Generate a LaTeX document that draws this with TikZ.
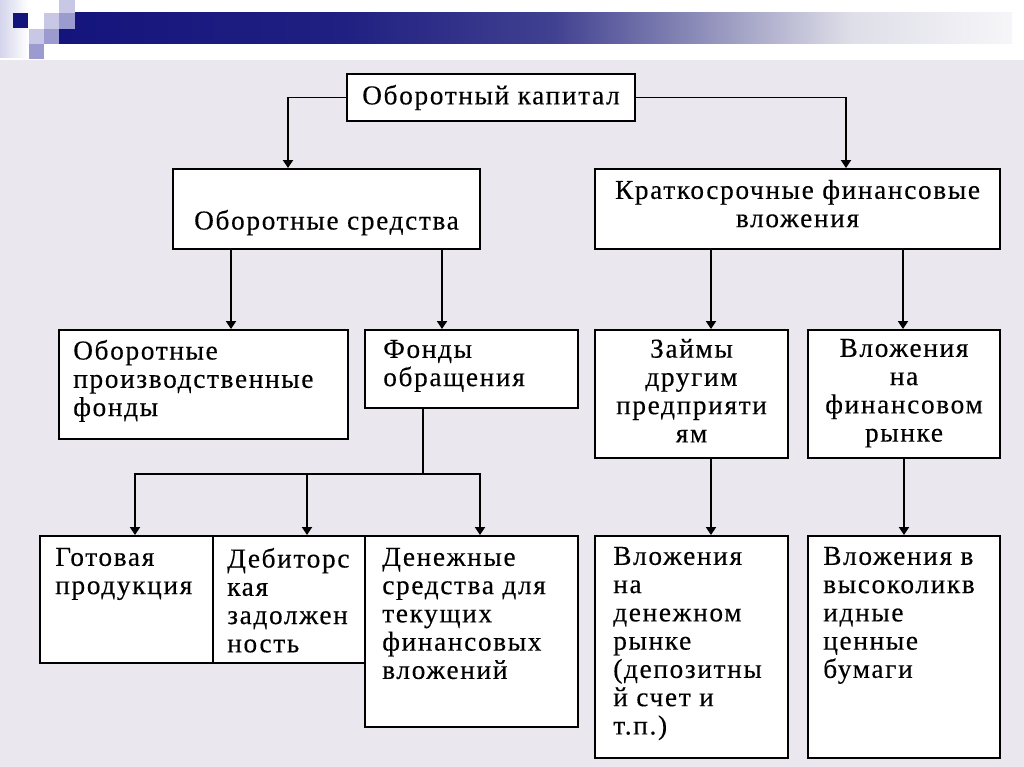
\documentclass[tikz,border=0pt]{standalone}
\usepackage{fontspec}
\setmainfont[LetterSpace=6, FakeBold=0.3]{Liberation Serif}
\usepackage{tikz}
\usetikzlibrary{arrows.meta, positioning, calc}
\definecolor{slide_bg}{RGB}{234,232,238}
\definecolor{slide_navy}{RGB}{20,20,125}
\definecolor{slide_navy2}{RGB}{32,32,130}
\definecolor{slide_navy3}{RGB}{65,65,145}
\definecolor{slide_fade}{RGB}{140,140,185}
\definecolor{slide_fade2}{RGB}{222,222,232}
\definecolor{slide_end}{RGB}{246,246,249}
\definecolor{slide_pale}{RGB}{212,212,236}
\definecolor{slide_lav}{RGB}{200,200,230}
\definecolor{slide_mid}{RGB}{155,155,208}
\pgfdeclarehorizontalshading{bandshade}{100bp}{color(0bp)=(slide_navy); color(25bp)=(slide_navy);
  color(40bp)=(slide_navy2); color(51bp)=(slide_navy3); color(58.5bp)=(slide_fade);
  color(66.5bp)=(slide_fade2); color(75bp)=(slide_end); color(100bp)=(slide_end)}
\newcommand{\boxfont}{\fontsize{20.5}{21.2}\selectfont}

\begin{document}
\begin{tikzpicture}[x=0.75pt, y=-0.75pt,
    box/.style 2 args={draw=black, fill=white, line width=1.5pt, inner sep=0pt, anchor=north west,
      minimum width=#1*0.75pt, minimum height=#2*0.75pt},
    txt/.style={font=\boxfont, align=left, inner sep=0pt},
    ctxt/.style={font=\boxfont, align=center, inner sep=0pt},
    conn/.style={line width=1.4pt},
    arr/.style={conn, -{Triangle[length=6pt, width=7.5pt]}}]
  \useasboundingbox (0,0) rectangle (1024,767);

  % slide background and header
  \fill[white] (0,0) rectangle (1024,767);
  \fill[slide_bg] (0,60) rectangle (1024,767);
  \shade[left color=slide_pale, right color=white] (0,0) rectangle (28,58);
  \shade[shading=bandshade] (59,13) rectangle (1012,44);
  \fill[slide_lav] (59,0) rectangle (75,13);
  \fill[slide_navy] (13,13) rectangle (28,28);
  \fill[slide_lav] (44,13) rectangle (59,29);
  \fill[slide_mid] (59,13) rectangle (75,29);
  \fill[slide_lav] (29,29) rectangle (44,44);
  \fill[slide_mid] (44,29) rectangle (59,44);
  \fill[slide_mid] (29,44) rectangle (44,59);

  % boxes
  \node[box={288}{47}] (kapital) at (346,73) {};
  \node[box={307}{80}] (sredstva) at (172,168) {};
  \node[box={405}{80}] (krat) at (594,168) {};
  \node[box={289}{109}] (proizv) at (58,329) {};
  \node[box={213}{78}] (fondy) at (364,329) {};
  \node[box={193}{128}] (zaimy) at (594,329) {};
  \node[box={192}{128}] (finryn) at (807,329) {};
  \node[box={173}{127}] (gotov) at (39,535) {};
  \node[box={152}{127}] (debit) at (212,535) {};
  \node[box={213}{191}] (denezh) at (364,535) {};
  \node[box={193}{222}] (denryn) at (594,535) {};
  \node[box={192}{222}] (likvid) at (807,535) {};

  % texts
  \node[ctxt] (kapitalT) at (kapital.center) {Оборотный капитал};
  \node[ctxt, below=31.25pt of sredstva.north] (sredstvaT) {Оборотные средства};
  \node[ctxt, below=8.75pt of krat.north] (kratT) {Краткосрочные финансовые\\вложения};
  \node[txt, below right=8pt and 11.25pt of proizv.north west] (proizvT) {Оборотные\\производственные\\фонды};
  \node[txt, below right=8pt and 14.25pt of fondy.north west] (fondyT) {Фонды\\обращения};
  \node[ctxt, below=7.25pt of zaimy.north] (zaimyT) {Займы\\другим\\предприяти\\ям};
  \node[ctxt, below=7.25pt of finryn.north] (finrynT) {Вложения\\на\\финансовом\\рынке};
  \node[txt, below right=9.5pt and 12pt of gotov.north west] (gotovT) {Готовая\\продукция};
  \node[txt, below right=9.5pt and 11.25pt of debit.north west] (debitT) {Дебиторс\\кая\\задолжен\\ность};
  \node[txt, below right=9.5pt and 13.5pt of denezh.north west] (denezhT) {Денежные\\средства для\\текущих\\финансовых\\вложений};
  \node[txt, below right=8.75pt and 14.25pt of denryn.north west] (denrynT) {Вложения\\на\\денежном\\рынке\\(депозитны\\й счет и\\т.п.)};
  \node[txt, below right=8.75pt and 12pt of likvid.north west] (likvidT) {Вложения в\\высоколикв\\идные\\ценные\\бумаги};

  % connectors
  \draw[arr] (kapital.west) -| ([shift={(-38.5,0)}]sredstva.north);
  \draw[arr] (kapital.east) -| ([shift={(48.5,0)}]krat.north);

  \coordinate (s1) at ([shift={(-95.5,0)}]sredstva.south);
  \coordinate (s2) at ([shift={(115.5,0)}]sredstva.south);
  \draw[arr] (s1) -- (s1 |- proizv.north);
  \draw[arr] (s2) -- (s2 |- fondy.north);

  \coordinate (k1) at ([shift={(-86.5,0)}]krat.south);
  \coordinate (k2) at ([shift={(105.5,0)}]krat.south);
  \draw[arr] (k1) -- (k1 |- zaimy.north);
  \draw[arr] (k2) -- (k2 |- finryn.north);

  \coordinate (z1) at ([shift={(19.5,0)}]zaimy.south);
  \draw[arr] (z1) -- (z1 |- denryn.north);
  \draw[arr] (finryn.south) -- (likvid.north);

  \coordinate (f0) at ([shift={(-48.5,0)}]fondy.south);
  \coordinate (bus) at ([shift={(0,65)}]f0);
  \draw[conn] (f0) -- (bus);
  \draw[arr] (bus) -| ([shift={(8.5,0)}]gotov.north);
  \draw[arr] (bus) -| ([shift={(18,0)}]debit.north);
  \draw[arr] (bus) -| ([shift={(8.5,0)}]denezh.north);
\end{tikzpicture}
\end{document}
